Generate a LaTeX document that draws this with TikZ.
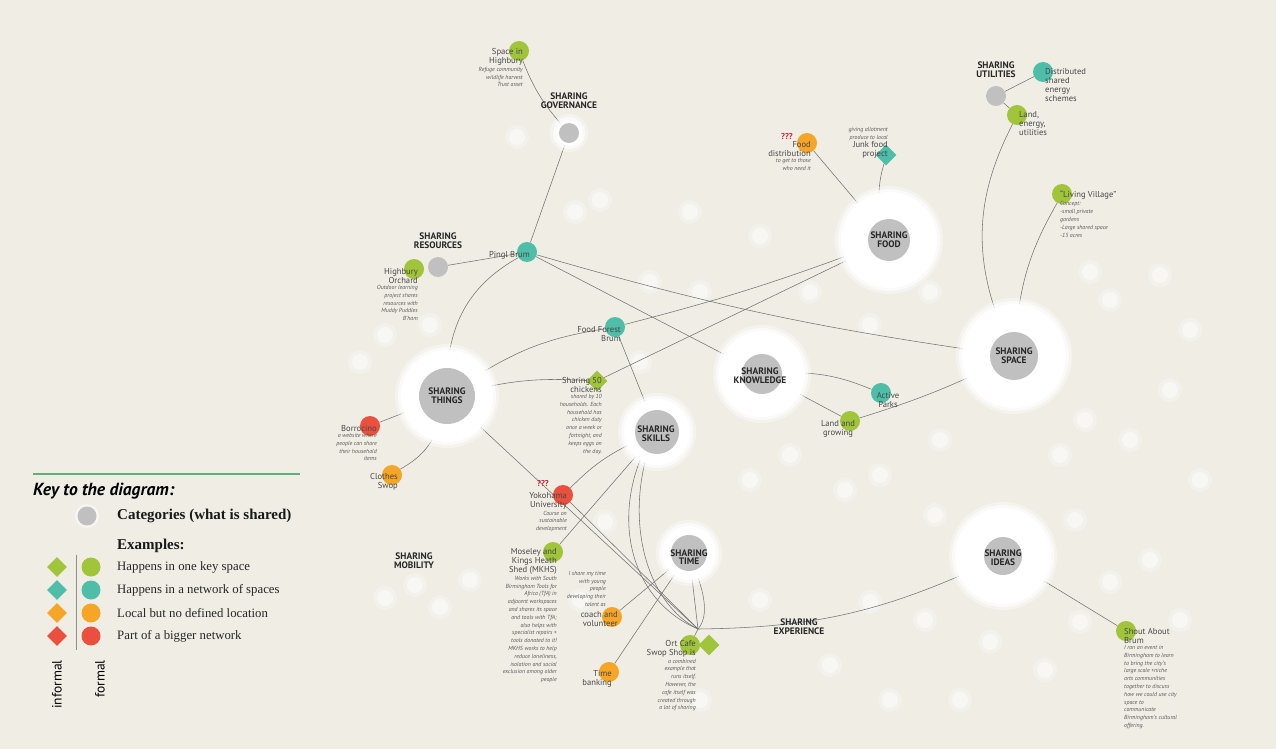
\documentclass[tikz,border=0pt]{standalone}
\usepackage{fontspec}
\setmainfont{Liberation Serif}
\setsansfont{PT Sans}
\usetikzlibrary{shapes.geometric,positioning}

\definecolor{paper}{RGB}{240,237,229}
\definecolor{catgrey}{RGB}{192,192,192}
\definecolor{exgreen}{RGB}{160,196,58}
\definecolor{exteal}{RGB}{78,190,168}
\definecolor{exorange}{RGB}{246,166,38}
\definecolor{exred}{RGB}{235,80,62}
\definecolor{keyline}{RGB}{88,178,122}
\definecolor{qred}{RGB}{205,35,55}

\pgfdeclarelayer{bg}
\pgfdeclarelayer{edges}
\pgfdeclarelayer{halos}
\pgfsetlayers{bg,edges,halos,main}

\tikzset{
  cat/.style={circle, fill=catgrey, inner sep=0pt, minimum size=#1},
  catlbl/.style={font=\sffamily\bfseries\fontsize{9.4}{8.6}\selectfont, align=center, text=black!85, inner sep=0pt},
  ex/.style={circle, fill=#1, inner sep=0pt, minimum size=20pt},
  exd/.style={diamond, fill=#1, inner sep=0pt, minimum size=21pt},
  exlbl/.style={font=\sffamily\fontsize{8.6}{9}\selectfont, text=black!72, inner sep=0pt},
  note/.style={font=\sffamily\itshape\fontsize{5.9}{7.8}\selectfont, text=black!65, inner sep=0pt},
  qq/.style={font=\sffamily\bfseries\fontsize{8.5}{8}\selectfont, text=qred, inner sep=0pt},
  link/.style={draw=black!55, line width=0.55pt},
  keytxt/.style={font=\fontsize{12.8}{14}\selectfont, anchor=west, inner sep=0pt, text=black!85},
  keyhead/.style={font=\bfseries\fontsize{15}{16}\selectfont, anchor=west, inner sep=0pt, text=black!90},
}

\begin{document}
\begin{tikzpicture}[x=1pt, y=-1pt]
\useasboundingbox (0,0) rectangle (1276,749);
\begin{pgfonlayer}{bg}
  \fill[paper] (0,0) rectangle (1276,749);
  % soft light spots
  \foreach \x/\y in {517/137,600/200,575/212,690/212,760/236,810/292,870/325,930/292,
      1090/272,1160/275,1110/300,1190/330,1170/390,1085/420,1130/440,940/440,1060/455,
      750/480,790/455,845/490,880/475,1075/520,1150/560,1110/582,1080/622,1045/670,
      830/665,870/602,925/620,700/700,580/600,385/598,415/585,440/607,470/580,
      360/362,385/335,430/325,650/282,700/292,640/362,605/522,990/642,935/515,
      1200/480,1180/620,890/700,960/700,760/600}
    {\fill[white, opacity=.25] (\x,\y) circle (12pt);
     \fill[white, opacity=.45] (\x,\y) circle (8pt);}
\end{pgfonlayer}

% categories
\node[cat=20pt] (gov) at (569,133) {};
\node[catlbl, above=14pt of gov] (gov-t) {SHARING\\GOVERNANCE};
\node[cat=20pt] (res) at (438,267) {};
\node[catlbl, above=8pt of res] (res-t) {SHARING\\RESOURCES};
\node[cat=56pt] (things) at (447,396) {};
\node[catlbl] (things-t) at (things) {SHARING\\THINGS};
\node[cat=44pt] (skills) at (657,432) {};
\node[catlbl] (skills-t) at (656,434) {SHARING\\SKILLS};
\node[cat=40pt] (know) at (762,374) {};
\node[catlbl] (know-t) at (760,376) {SHARING\\KNOWLEDGE};
\node[cat=42pt] (food) at (889,240) {};
\node[catlbl] (food-t) at (food) {SHARING\\FOOD};
\node[cat=48pt] (space) at (1014,356) {};
\node[catlbl] (space-t) at (space) {SHARING\\SPACE};
\node[cat=20pt] (util) at (996,96) {};
\node[catlbl, above=8pt of util] (util-t) {SHARING\\UTILITIES};
\node[cat=36pt] (time) at (689,553) {};
\node[catlbl] (time-t) at (689,557) {SHARING\\TIME};
\node[cat=38pt] (ideas) at (1003,556) {};
\node[catlbl] (ideas-t) at (1003,558) {SHARING\\IDEAS};
\node[catlbl] (mobility) at (414,561) {SHARING\\MOBILITY};
\node[catlbl] (experience) at (799,627) {SHARING\\EXPERIENCE};

% examples
\node[ex=exgreen] (highbury) at (519,51) {};
\node[exlbl, anchor=north east, align=right] (highbury-t) at (523,48) {Space in\\Highbury};
\node[note, anchor=north east, align=right] (highbury-n) at ([yshift=-1.5pt]highbury-t.south east) {Refuge community\\wildlife harvest\\Trust asset};

\node[ex=exteal] (pingl) at (527,252) {};
\node[exlbl, anchor=east] (pingl-t) at (530,255) {Pingl Brum};

\node[ex=exgreen] (orchard) at (414,269) {};
\node[exlbl, anchor=north east, align=right] (orchard-t) at (418,268) {Highbury\\Orchard};
\node[note, anchor=north east, align=right] (orchard-n) at ([yshift=-1.5pt]orchard-t.south east) {Outdoor learning\\project shares\\resources with\\Muddy Puddles\\B'ham};

\node[ex=exteal] (forest) at (615,327) {};
\node[exlbl, anchor=north east, align=right] (forest-t) at (621,326) {Food Forest\\Brum};

\node[exd=exgreen] (chickens) at (597,381) {};
\node[exlbl, anchor=north east, align=right] (chickens-t) at (602,377) {Sharing 50\\chickens};
\node[note, anchor=north east, align=right] (chickens-n) at ([yshift=-1.5pt]chickens-t.south east) {shared by 10\\households. Each\\household has\\chicken duty\\once a week or\\fortnight, and\\keeps eggs on\\the day.};

\node[ex=exred] (borro) at (370,426) {};
\node[exlbl, anchor=north east, align=right] (borro-t) at (377,425) {Borrocino};
\node[note, anchor=north east, align=right] (borro-n) at ([yshift=-1.5pt]borro-t.south east) {a website where\\people can share\\their household\\items};

\node[ex=exorange] (clothes) at (392,475) {};
\node[exlbl, anchor=north east, align=right] (clothes-t) at (398,473) {Clothes\\Swop};

\node[ex=exred] (yoko) at (563,495) {};
\node[qq] (yoko-q) at (543,484) {???};
\node[exlbl, anchor=north east, align=right] (yoko-t) at (567,492) {Yokohama\\University};
\node[note, anchor=north east, align=right] (yoko-n) at ([yshift=-1.5pt]yoko-t.south east) {Course on\\sustainable\\development};

\node[ex=exgreen] (shed) at (553,552) {};
\node[exlbl, anchor=north east, align=right] (shed-t) at (557,548) {Moseley and\\Kings Heath\\Shed (MKHS)};
\node[note, anchor=north east, align=right] (shed-n) at ([yshift=-1.5pt]shed-t.south east) {Works with South\\Birmingham Tools for\\Africa (TfA) in\\adjacent workspaces\\and shares its space\\and tools with TfA;\\also helps with\\specialist repairs +\\tools donated to it!\\MKHS works to help\\reduce loneliness,\\isolation and social\\exclusion among older\\people};

\node[ex=exorange] (coach) at (612,617) {};
\node[note, anchor=north east, align=right] (coach-n) at (606,571) {I share my time\\with young\\people\\developing their\\talent as};
\node[exlbl, anchor=north east, align=right] (coach-t) at (618,611) {coach and\\volunteer};

\node[ex=exorange] (timebank) at (609,672) {};
\node[exlbl, anchor=north east, align=right] (timebank-t) at (612,670) {Time\\banking};

\node[ex=exgreen] (ortc) at (690,645) {};
\node[exd=exgreen] (ortd) at (709,645) {};
\coordinate (orthub) at (698,629);
\node[exlbl, anchor=north east, align=right] (ortc-t) at (696,640) {Ort Cafe\\Swop Shop is};
\node[note, anchor=north east, align=right] (ortc-n) at ([yshift=-1.5pt]ortc-t.south east) {a combined\\example that\\runs itself.\\However, the\\cafe itself was\\created through\\a lot of sharing};

\node[ex=exorange] (fooddist) at (807,143) {};
\node[qq] (fooddist-q) at (787,137) {???};
\node[exlbl, anchor=north east, align=right] (fooddist-t) at (811,141) {Food\\distribution};
\node[note, anchor=north east, align=right] (fooddist-n) at ([yshift=-1.5pt]fooddist-t.south east) {to get to those\\who need it};

\node[exd=exteal] (junk) at (886,155) {};
\node[note, anchor=north east, align=right] (junk-n) at (888,127) {giving allotment\\produce to local};
\node[exlbl, anchor=north east, align=right] (junk-t) at ([yshift=-1pt]junk-n.south east) {Junk food\\project};

\node[ex=exteal] (energy) at (1043,72) {};
\node[exlbl, anchor=north west, align=left] (energy-t) at (1045,68) {Distributed\\shared\\energy\\schemes};

\node[ex=exgreen] (landen) at (1017,115) {};
\node[exlbl, anchor=north west, align=left] (landen-t) at (1019,111) {Land,\\energy,\\utilities};

\node[ex=exgreen] (village) at (1062,194) {};
\node[exlbl, anchor=north west, align=left] (village-t) at (1060,191) {``Living Village''};
\node[note, anchor=north west, align=left] (village-n) at ([yshift=-1.5pt]village-t.south west) {Concept:\\-small private\\gardens\\-Large shared space\\-15 acres};

\node[ex=exteal] (parks) at (881,393) {};
\node[exlbl, align=center] (parks-t) at (888,400) {Active\\Parks};

\node[ex=exgreen] (landgrow) at (850,421) {};
\node[exlbl, align=center] (landgrow-t) at (838,429) {Land and\\growing};

\node[ex=exgreen] (shout) at (1126,631) {};
\node[exlbl, anchor=north west, align=left] (shout-t) at (1124,628) {Shout About\\Brum};
\node[note, anchor=north west, align=left] (shout-n) at ([yshift=-1.5pt]shout-t.south west) {I ran an event in\\Birmingham to learn\\to bring the city's\\large scale +niche\\arts communities\\together to discuss\\how we could use city\\space to\\communicate\\Birmingham's cultural\\offering.};

% halos round the categories
\begin{pgfonlayer}{halos}
  \foreach \c/\r in {things/46,skills/33,know/43,food/48,space/52,time/27,ideas/48,gov/13}
    {\fill[white, opacity=.35] (\c) circle (\r pt+6pt);
     \fill[white, opacity=.6] (\c) circle (\r pt+3pt);
     \fill[white] (\c) circle (\r pt);}
\end{pgfonlayer}

% connectors
\begin{pgfonlayer}{edges}
  \draw[link] (highbury) to[bend right=10] (gov);
  \draw[link] (gov) -- (pingl);
  \draw[link] (res) -- (pingl);
  \draw[link] (pingl) to[bend right=28] (things);
  \draw[link] (pingl) to[bend right=4] (space);
  \draw[link] (pingl) -- (know);
  \draw[link] (things) to[bend left=12] (forest);
  \draw[link] (forest) to[bend right=3] (food);
  \draw[link] (forest) -- (skills);
  \draw[link] (things) to[bend left=8] (chickens);
  \draw[link] (chickens) -- (food);
  \draw[link] (things) -- (borro);
  \draw[link] (things) to[bend left=20] (clothes);
  \draw[link] (things) -- (orthub);
  \draw[link] (yoko) -- (orthub);
  \draw[link] (skills) to[bend right=10] (yoko);
  \draw[link] (skills) -- (shed);
  \draw[link] (skills.235) .. controls (612,520) and (630,600) .. (orthub);
  \draw[link] (skills.245) .. controls (625,530) and (650,605) .. (orthub);
  \draw[link] (time) -- (coach);
  \draw[link] (time) -- (timebank);
  \draw[link] (time) -- (orthub);
  \draw[link] (time.290) .. controls (703,590) and (710,615) .. (orthub);
  \draw[link] (orthub) -- (ortc);
  \draw[link] (orthub) to[bend right=12] (ideas);
  \draw[link] (ideas) -- (shout);
  \draw[link] (know) to[bend left=12] (parks);
  \draw[link] (know) -- (landgrow);
  \draw[link] (landgrow) to[bend right=4] (space);
  \draw[link] (space) to[bend left=25] (landen);
  \draw[link] (space) to[bend left=12] (village);
  \draw[link] (util) -- (energy);
  \draw[link] (util) -- (landen);
  \draw[link] (food) -- (fooddist);
  \draw[link] (food) to[bend left=15] (junk);
\end{pgfonlayer}

% key
\draw[keyline, line width=1.4pt] (33,474) -- (300,474);
\node[font=\sffamily\bfseries\itshape\fontsize{17.5}{19}\selectfont, anchor=west, inner sep=0pt] (key-t) at (33,491) {Key to the diagram:};
\fill[white, opacity=.5] (87,516) circle (12pt);
\node[cat=19pt] (key-cat) at (87,516) {};
\node[keyhead] (key-cat-t) at (117,516) {Categories (what is shared)};
\node[keyhead] (key-ex) at (117,546) {Examples:};
\draw[black!45, line width=0.6pt] (76,555) -- (76,650);
\foreach \c/\y/\txt [count=\i] in {exgreen/567/Happens in one key space,
    exteal/590/Happens in a network of spaces,
    exorange/613/Local but no defined location,
    exred/636/Part of a bigger network}
  {\node[diamond, fill=\c, inner sep=0pt, minimum size=20pt] (key-d\i) at (57,\y) {};
   \node[circle, fill=\c, inner sep=0pt, minimum size=19pt] (key-c\i) at (91,\y) {};
   \node[keytxt] (key-t\i) at (117,\y) {\txt};}
\node[font=\sffamily\fontsize{13.5}{14}\selectfont, rotate=90, anchor=east, inner sep=0pt] (key-inf) at (57,660) {informal};
\node[font=\sffamily\fontsize{13.5}{14}\selectfont, rotate=90, anchor=east, inner sep=0pt] (key-for) at (100,660) {formal};
\end{tikzpicture}
\end{document}
